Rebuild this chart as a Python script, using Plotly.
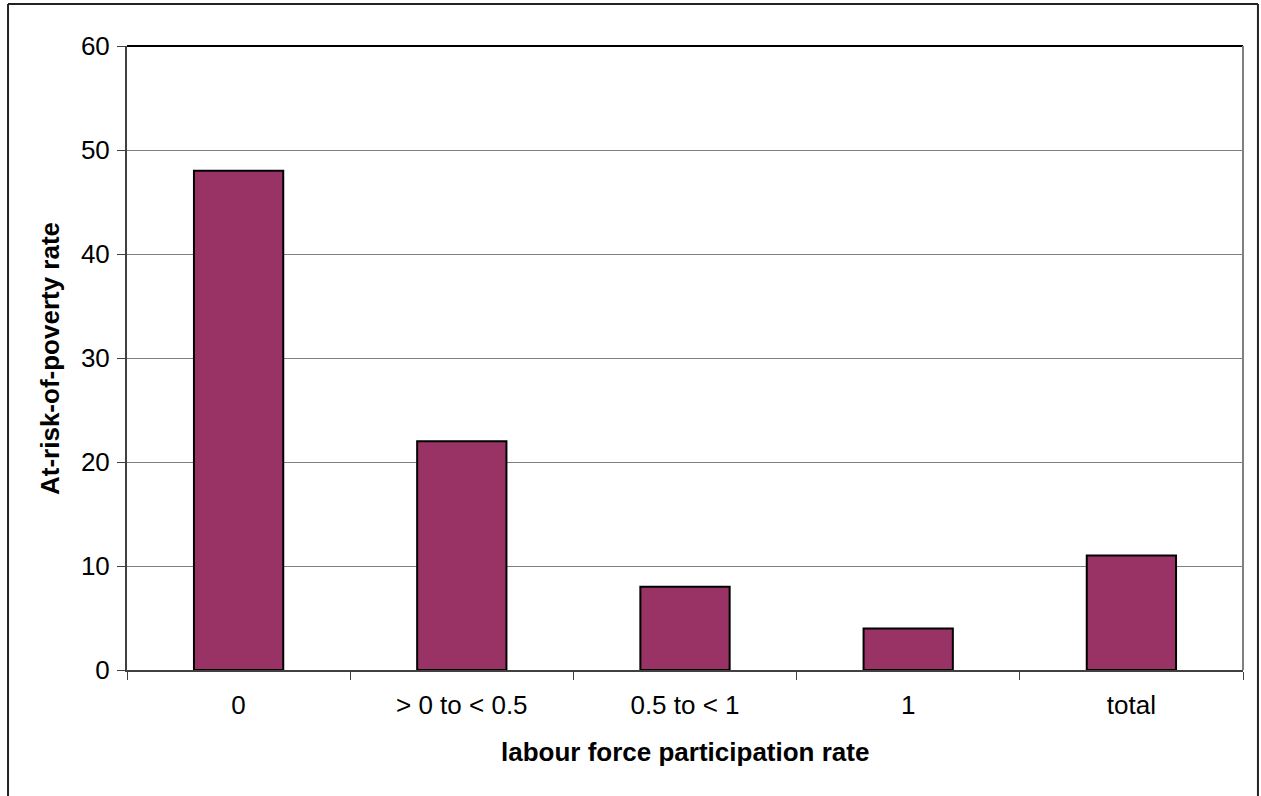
import plotly.graph_objects as go

# At-risk-of-poverty rate by household labour force participation
categories = ["0", "> 0 to < 0.5", "0.5 to < 1", "1", "total"]
rates = [48, 22, 8, 4, 11]
y_ticks = [0, 10, 20, 30, 40, 50, 60]

BAR_COLOR = "#993366"
FONT = "Liberation Sans, Arial, sans-serif"
FS = 26

fig = go.Figure(
    go.Bar(
        x=categories,
        y=rates,
        width=0.4,
        marker=dict(color=BAR_COLOR, line=dict(color="#000000", width=2)),
        hoverinfo="x+y",
    )
)

fig.update_layout(
    width=1261,
    height=796,
    margin=dict(l=127, r=18, t=46, b=126),
    paper_bgcolor="white",
    plot_bgcolor="white",
    showlegend=False,
    font=dict(family=FONT, size=FS, color="#000000"),
    xaxis=dict(
        type="category",
        range=[-0.5, 4.5],
        tickson="boundaries",
        ticks="outside",
        ticklen=8,
        tickcolor="#404040",
        tickwidth=1,
        showline=True,
        linecolor="#404040",
        linewidth=2,
        showgrid=False,
        tickfont=dict(family=FONT, size=FS, color="#000000"),
        ticklabelstandoff=11,
    ),
    yaxis=dict(
        range=[0, 60],
        tickvals=y_ticks,
        ticks="outside",
        ticklen=8,
        tickcolor="#404040",
        tickwidth=1,
        showline=True,
        linecolor="#404040",
        linewidth=2,
        showgrid=True,
        gridcolor="#808080",
        gridwidth=1,
        zeroline=False,
        tickfont=dict(family=FONT, size=FS, color="#000000"),
        ticklabelstandoff=2,
    ),
    annotations=[
        dict(
            text="<b>labour force participation rate</b>",
            xref="paper", yref="paper",
            x=0.5, y=-0.131,
            xanchor="center", yanchor="middle",
            showarrow=False,
            font=dict(family=FONT, size=FS, color="#000000"),
        ),
        dict(
            text="<b>At-risk-of-poverty rate</b>",
            xref="paper", yref="paper",
            x=-0.069, y=0.5,
            xanchor="center", yanchor="middle",
            textangle=-90,
            showarrow=False,
            font=dict(family=FONT, size=FS, color="#000000"),
        ),
    ],
    shapes=[
        # plot-area frame: dark top edge, grey right edge
        dict(type="line", xref="paper", yref="paper", x0=0, x1=1, y0=1, y1=1,
             line=dict(color="#000000", width=2)),
        dict(type="line", xref="paper", yref="paper", x0=1, x1=1, y0=0, y1=1,
             line=dict(color="#808080", width=2)),
        # outer chart border (left, top, right; bottom runs off the page)
        dict(type="line", xref="paper", yref="paper",
             x0=-0.1066, x1=-0.1066, y0=-0.35, y1=1.0673,
             line=dict(color="#222222", width=2)),
        dict(type="line", xref="paper", yref="paper",
             x0=-0.1066, x1=1.0134, y0=1.0673, y1=1.0673,
             line=dict(color="#222222", width=2)),
        dict(type="line", xref="paper", yref="paper",
             x0=1.0134, x1=1.0134, y0=-0.35, y1=1.0673,
             line=dict(color="#222222", width=2)),
    ],
)

fig.write_html("out.html")
